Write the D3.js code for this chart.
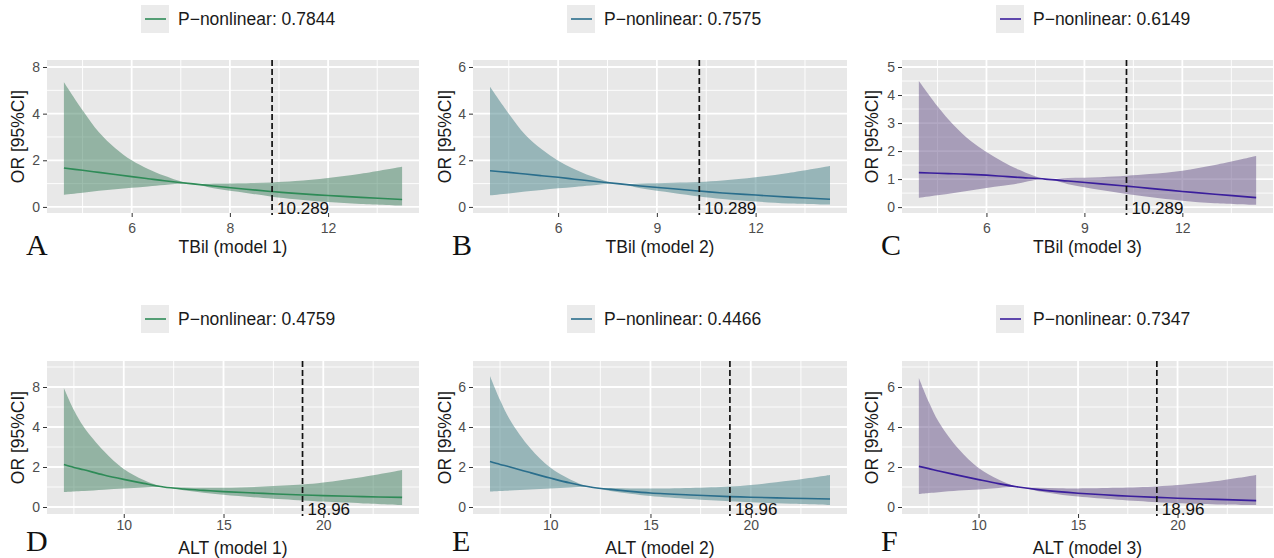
<!DOCTYPE html>
<html>
<head>
<meta charset="utf-8">
<script src="https://cdn.jsdelivr.net/npm/d3@7"></script>
<style>
  body { margin: 0; background: #fff; }
  svg { display: block; font-family: "Liberation Sans", Arial, sans-serif; }
</style>
</head>
<body>
<svg id="chart" width="1274" height="558"></svg>
<script>
// x grids
var tbilX = [3.93, 4.5, 5, 5.5, 6, 6.5, 7, 7.8, 8.5, 9.5, 10.29, 11, 12, 13, 14.26];
var altX  = [7, 7.5, 8, 9, 10, 11, 12, 13, 14, 15, 17, 18.96, 20, 22, 23.95];

// OR estimate, upper and lower CI per panel
var orA = [1.67,1.57,1.48,1.39,1.30,1.21,1.12,1.00,0.90,0.76,0.66,0.58,0.49,0.41,0.32];
var hiA = [5.35,4.15,3.2,2.52,2.0,1.63,1.34,1.00,1.01,1.02,1.05,1.11,1.24,1.42,1.72];
var loA = [0.52,0.61,0.69,0.76,0.82,0.88,0.94,1.00,0.80,0.60,0.44,0.33,0.21,0.13,0.06];

var orB = [1.55,1.48,1.41,1.34,1.27,1.19,1.11,1.00,0.90,0.78,0.68,0.60,0.51,0.42,0.33];
var hiB = [5.15,4.0,3.1,2.47,1.98,1.62,1.33,1.00,1.01,1.04,1.07,1.13,1.27,1.46,1.76];
var loB = [0.50,0.58,0.66,0.73,0.80,0.86,0.92,1.00,0.80,0.60,0.45,0.34,0.23,0.15,0.10];

var orC = [1.23,1.21,1.19,1.17,1.14,1.10,1.06,1.00,0.93,0.83,0.75,0.67,0.56,0.46,0.34];
var hiC = [4.5,3.6,2.92,2.38,1.97,1.62,1.33,1.00,1.04,1.07,1.12,1.18,1.30,1.50,1.82];
var loC = [0.33,0.42,0.50,0.59,0.68,0.76,0.85,1.00,0.82,0.61,0.47,0.36,0.23,0.14,0.08];

var orD = [2.12,1.98,1.86,1.60,1.38,1.18,1.00,0.90,0.83,0.77,0.68,0.60,0.57,0.52,0.48];
var hiD = [5.95,4.85,4.0,2.8,1.9,1.35,1.00,0.97,0.96,0.96,1.02,1.12,1.22,1.50,1.85];
var loD = [0.75,0.78,0.80,0.86,0.92,0.97,1.00,0.84,0.71,0.61,0.45,0.33,0.27,0.18,0.10];

var orE = [2.27,2.13,2.00,1.72,1.45,1.20,1.00,0.88,0.78,0.70,0.60,0.52,0.49,0.44,0.40];
var hiE = [6.55,5.35,4.35,2.95,1.97,1.38,1.00,0.95,0.93,0.92,0.95,1.02,1.10,1.32,1.60];
var loE = [0.77,0.80,0.83,0.88,0.93,0.97,1.00,0.80,0.66,0.55,0.40,0.29,0.24,0.16,0.10];

var orF = [2.03,1.92,1.80,1.58,1.37,1.17,1.00,0.87,0.77,0.69,0.57,0.48,0.44,0.38,0.32];
var hiF = [6.45,5.25,4.25,2.9,1.95,1.38,1.00,0.96,0.94,0.93,0.96,1.03,1.10,1.30,1.60];
var loF = [0.65,0.70,0.74,0.82,0.88,0.95,1.00,0.79,0.64,0.52,0.36,0.24,0.19,0.13,0.10];

var letters  = ["A", "B", "C", "D", "E", "F"];
var xTitles  = ["TBil (model 1)", "TBil (model 2)", "TBil (model 3)", "ALT (model 1)", "ALT (model 2)", "ALT (model 3)"];
var pValues  = ["0.7844", "0.7575", "0.6149", "0.4759", "0.4466", "0.7347"];
var cutoffs  = [10.289, 10.289, 10.289, 18.96, 18.96, 18.96];
var cutLabels = ["10.289", "10.289", "10.289", "18.96", "18.96", "18.96"];

var tbilTicks = [6, 9, 12];
var altTicks  = [10, 15, 20];
var xTickLabels = [["6", "8", "12"], ["6", "9", "12"], ["6", "9", "12"], ["10", "15", "20"], ["10", "15", "20"], ["10", "15", "20"]];
var yTicks6 = [0, 2, 4, 6];
var yTicks5 = [0, 1, 2, 3, 4, 5];
var yTickLabels = [["0", "2", "4", "8"], ["0", "2", "4", "6"], ["0", "1", "2", "3", "4", "5"], ["0", "2", "4", "8"], ["0", "2", "4", "6"], ["0", "2", "4", "6"]];
var yLimits = [[-0.26, 6.3], [-0.26, 6.3], [-0.21, 5.25], [-0.35, 7.3], [-0.35, 7.3], [-0.35, 7.3]];

var lineColors = ["#2e8b57", "#2a6e8c", "#3a1e9c", "#2e8b57", "#2a6e8c", "#3a1e9c"];
var bandColors = ["#3e7e5e", "#468288", "#665288", "#3e7e5e", "#468288", "#665288"];

// layout
var cols = [[47, 419], [473, 847], [902, 1273]];
var rows = [
  {top: 60, bottom: 213, tickBase: 233, titleBase: 253, letterBase: 255, legendY: 5},
  {top: 361, bottom: 514, tickBase: 530, titleBase: 554, letterBase: 551, legendY: 305}
];
var yTitleX = [18, 445, 872];
var letterX = [26, 452, 881];

var panels = [
  {x: tbilX, or: orA, hi: hiA, lo: loA, ticks: tbilTicks, yt: yTicks6},
  {x: tbilX, or: orB, hi: hiB, lo: loB, ticks: tbilTicks, yt: yTicks6},
  {x: tbilX, or: orC, hi: hiC, lo: loC, ticks: tbilTicks, yt: yTicks5},
  {x: altX, or: orD, hi: hiD, lo: loD, ticks: altTicks, yt: yTicks6},
  {x: altX, or: orE, hi: hiE, lo: loE, ticks: altTicks, yt: yTicks6},
  {x: altX, or: orF, hi: hiF, lo: loF, ticks: altTicks, yt: yTicks6}
];

var svg = d3.select("#chart");
var smooth = d3.curveCatmullRom.alpha(0.5);

panels.forEach(function(p, i){
  var col = cols[i % 3], row = rows[Math.floor(i / 3)];
  var g = svg.append("g");

  // ggplot style 5% expansion of data range
  var ext = d3.extent(p.x), pad = (ext[1] - ext[0]) * 0.05;
  var x = d3.scaleLinear().domain([ext[0] - pad, ext[1] + pad]).range([col[0], col[1]]);
  var y = d3.scaleLinear().domain(yLimits[i]).range([row.bottom, row.top]);

  g.append("rect")
    .attr("x", col[0]).attr("y", row.top)
    .attr("width", col[1] - col[0]).attr("height", row.bottom - row.top)
    .attr("fill", "#e8e8e8");

  // minor grid at midpoints
  var xStep = p.ticks[1] - p.ticks[0];
  var xMinor = d3.range(p.ticks[0] - xStep * 1.5, x.domain()[1], xStep).filter(function(v){ return v > x.domain()[0]; });
  var yStep = p.yt[1] - p.yt[0];
  var yMinor = d3.range(p.yt[0] + yStep / 2, y.domain()[1], yStep);

  g.selectAll(".vminor").data(xMinor).enter().append("line")
    .attr("x1", x).attr("x2", x).attr("y1", row.top).attr("y2", row.bottom)
    .attr("stroke", "#fff").attr("stroke-width", 0.9);
  g.selectAll(".hminor").data(yMinor).enter().append("line")
    .attr("x1", col[0]).attr("x2", col[1]).attr("y1", y).attr("y2", y)
    .attr("stroke", "#fff").attr("stroke-width", 0.9);
  g.selectAll(".vmajor").data(p.ticks).enter().append("line")
    .attr("x1", x).attr("x2", x).attr("y1", row.top).attr("y2", row.bottom)
    .attr("stroke", "#fff").attr("stroke-width", 1.8);
  g.selectAll(".hmajor").data(p.yt).enter().append("line")
    .attr("x1", col[0]).attr("x2", col[1]).attr("y1", y).attr("y2", y)
    .attr("stroke", "#fff").attr("stroke-width", 1.8);

  var pts = p.x.map(function(v, k){ return {x: v, or: p.or[k], hi: p.hi[k], lo: p.lo[k]}; });

  var area = d3.area()
    .x(function(d){ return x(d.x); })
    .y0(function(d){ return y(d.lo); })
    .y1(function(d){ return y(d.hi); })
    .curve(smooth);
  g.append("path").datum(pts).attr("d", area)
    .attr("fill", bandColors[i]).attr("fill-opacity", 0.5);

  var line = d3.line()
    .x(function(d){ return x(d.x); })
    .y(function(d){ return y(d.or); })
    .curve(smooth);
  g.append("path").datum(pts).attr("d", line)
    .attr("fill", "none").attr("stroke", lineColors[i]).attr("stroke-width", 1.6);

  // cutoff line
  g.append("line")
    .attr("x1", x(cutoffs[i])).attr("x2", x(cutoffs[i]))
    .attr("y1", row.top).attr("y2", row.bottom + 2)
    .attr("stroke", "#111").attr("stroke-width", 1.7).attr("stroke-dasharray", "6,3");
  g.append("text")
    .attr("x", x(cutoffs[i]) + 5).attr("y", row.bottom + 1)
    .attr("font-size", 17).attr("fill", "#111")
    .text(cutLabels[i]);

  // axes
  var xa = g.append("g").attr("transform", "translate(0," + row.bottom + ")")
    .call(d3.axisBottom(x).tickValues(p.ticks).tickSize(4).tickFormat(function(d, k){ return xTickLabels[i][k]; }));
  xa.select(".domain").remove();
  xa.selectAll("line").attr("stroke", "#333");
  xa.selectAll("text").attr("font-size", 14).attr("fill", "#4d4d4d")
    .attr("dy", null).attr("y", row.tickBase - row.bottom);

  var ya = g.append("g").attr("transform", "translate(" + col[0] + ",0)")
    .call(d3.axisLeft(y).tickValues(p.yt).tickSize(4).tickPadding(3).tickFormat(function(d, k){ return yTickLabels[i][k]; }));
  ya.select(".domain").remove();
  ya.selectAll("line").attr("stroke", "#333");
  ya.selectAll("text").attr("font-size", 14).attr("fill", "#4d4d4d");

  // titles
  g.append("text")
    .attr("x", (col[0] + col[1]) / 2).attr("y", row.titleBase)
    .attr("text-anchor", "middle").attr("font-size", 17.5).attr("fill", "#1a1a1a")
    .text(xTitles[i]);
  g.append("text")
    .attr("transform", "translate(" + (yTitleX[i % 3] + 6) + "," + ((row.top + row.bottom) / 2) + ") rotate(-90)")
    .attr("text-anchor", "middle").attr("font-size", 17.5).attr("fill", "#1a1a1a")
    .text("OR [95%CI]");

  // panel letter
  g.append("text")
    .attr("x", letterX[i % 3]).attr("y", row.letterBase)
    .attr("font-family", "'Liberation Serif', 'Times New Roman', serif")
    .attr("font-size", 30).attr("fill", "#111")
    .text(letters[i]);

  // legend
  var lx = col[0] + 94, ly = row.legendY;
  g.append("rect").attr("x", lx).attr("y", ly).attr("width", 28).attr("height", 28).attr("fill", "#ebebeb");
  g.append("line").attr("x1", lx + 4).attr("x2", lx + 25).attr("y1", ly + 14).attr("y2", ly + 14)
    .attr("stroke", lineColors[i]).attr("stroke-width", 1.6);
  g.append("text").attr("x", lx + 37).attr("y", ly + 20)
    .attr("font-size", 17.5).attr("fill", "#1a1a1a")
    .text("P\u2212nonlinear: " + pValues[i]);
});
</script>
</body>
</html>
